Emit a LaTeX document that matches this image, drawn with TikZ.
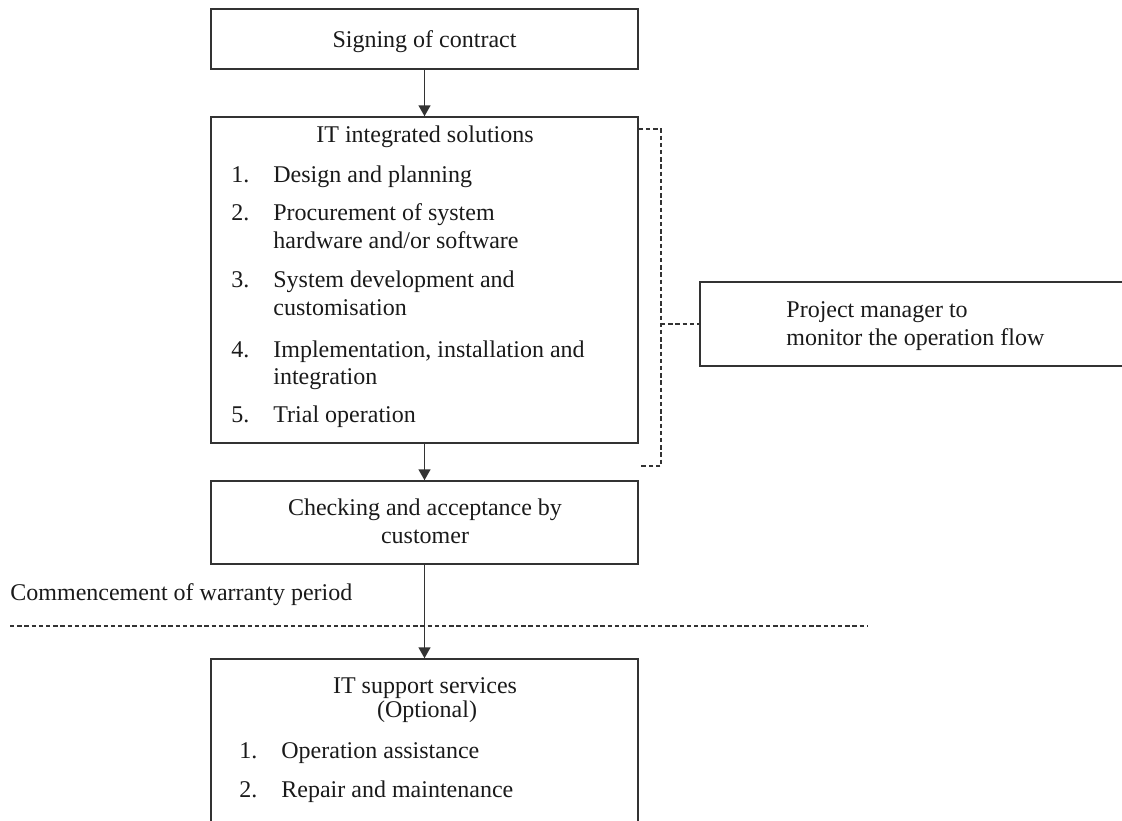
\documentclass[tikz,border=0pt]{standalone}
\usepackage{fontspec}
\setmainfont{Liberation Serif}
\usetikzlibrary{arrows.meta}
\definecolor{ink}{HTML}{1A1A1A}
\definecolor{rule}{HTML}{333333}
\begin{document}
\begin{tikzpicture}[x=0.5pt,y=-0.5pt,
  box/.style={draw=rule, line width=0.75pt, rectangle, inner sep=0pt},
  txt/.style={anchor=base west, inner sep=0pt, text=ink, font=\fontsize{12}{14}\selectfont},
  ctxt/.style={anchor=base, inner sep=0pt, text=ink, font=\fontsize{12}{14}\selectfont},
  flow/.style={draw=rule, line width=0.75pt, -{Triangle[length=5.5pt,width=6pt]}},
  link/.style={draw=rule, line width=0.6pt, dash pattern=on 2.2pt off 1.4pt}]
\clip (0,0) rectangle (1122,820);

% boxes
\node[box, minimum width=213.5pt, minimum height=30pt]  (sign)    at (424.5,39)    {};
\node[box, minimum width=213.5pt, minimum height=163pt] (it)      at (424.5,280)   {};
\node[box, minimum width=213.5pt, minimum height=41.5pt] (check)  at (424.5,522.5) {};
\node[box, minimum width=213.5pt, minimum height=90.5pt] (support) at (424.5,749.5) {};
\node[box, minimum width=220pt, minimum height=42pt]    (pm)      at (920,324)     {};

% main flow
\draw[flow] (sign) -- (it);
\draw[flow] (it) -- (check);
\draw[flow] (check) -- (support);

% monitoring bracket
\coordinate (ytop) at (0,129);
\coordinate (ybot) at (0,466);
\coordinate (btop) at (661,129);
\coordinate (bbot) at (661,466);
\coordinate (tap)  at (661,324);
\draw[link] (it.east |- ytop) -- (btop) -- (bbot) -- (check.east |- ybot);
\draw[link] (tap) -- (pm);

% warranty boundary
\coordinate (wl) at (10,626);
\coordinate (wr) at (867,626);
\draw[link] (wl) -- (wr);
\node[txt] (warranty) at (10,600) {Commencement of warranty period};

% texts
\node[ctxt] (t-sign) at (424.5,47) {Signing of contract};

\node[ctxt] (t-it) at (425,142) {IT integrated solutions};
\node[txt] (n1) at (231,182) {1.};
\node[txt] (i1) at (273,182) {Design and planning};
\node[txt] (n2) at (231,220) {2.};
\node[txt] (i2a) at (273,220) {Procurement of system};
\node[txt] (i2b) at (273,248) {hardware and/or software};
\node[txt] (n3) at (231,287) {3.};
\node[txt] (i3a) at (273,287) {System development and};
\node[txt] (i3b) at (273,315) {customisation};
\node[txt] (n4) at (231,357) {4.};
\node[txt] (i4a) at (273,357) {Implementation, installation and};
\node[txt] (i4b) at (273,384) {integration};
\node[txt] (n5) at (231,422) {5.};
\node[txt] (i5) at (273,422) {Trial operation};

\node[ctxt] (t-check1) at (425,515) {Checking and acceptance by};
\node[ctxt] (t-check2) at (425,543) {customer};

\node[txt] (t-pm1) at (786,317) {Project manager to};
\node[txt] (t-pm2) at (786,345) {monitor the operation flow};

\node[ctxt] (t-sup1) at (425,693) {IT support services};
\node[ctxt] (t-sup2) at (427,717) {(Optional)};
\node[txt] (m1) at (239,758) {1.};
\node[txt] (s1) at (281,758) {Operation assistance};
\node[txt] (m2) at (239,797) {2.};
\node[txt] (s2) at (281,797) {Repair and maintenance};
\end{tikzpicture}
\end{document}
